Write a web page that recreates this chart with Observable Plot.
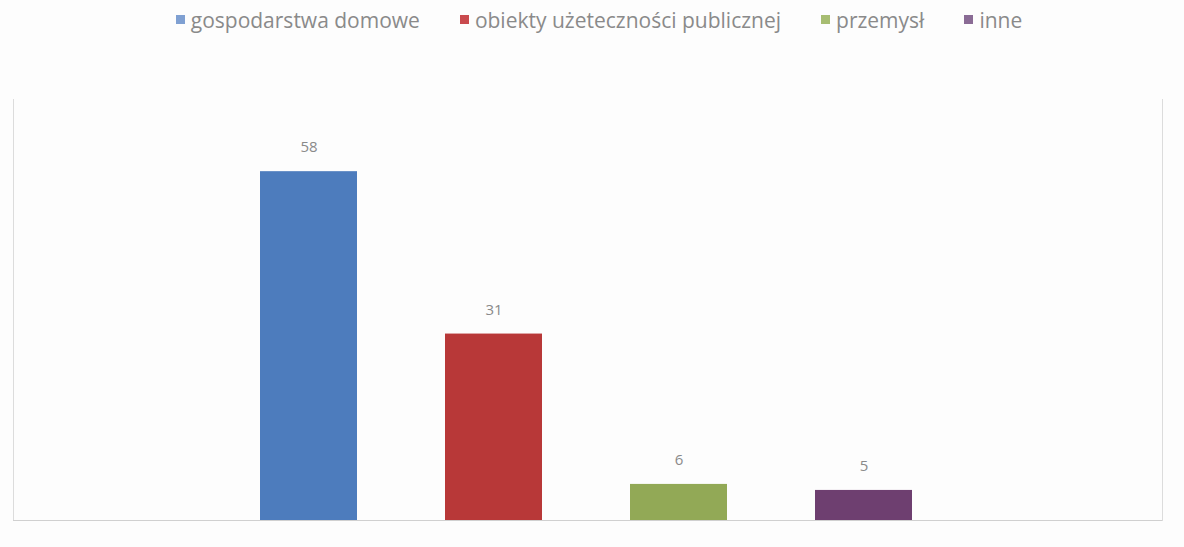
<!DOCTYPE html>
<html>
<head>
<meta charset="utf-8">
<script src="https://cdn.jsdelivr.net/npm/d3@7"></script>
<script src="https://cdn.jsdelivr.net/npm/@observablehq/plot@0.6"></script>
<style>
  html, body { margin: 0; padding: 0; background: #fdfdfd; }
  body { width: 1184px; height: 547px; overflow: hidden; font-family: "Open Sans", Lato, sans-serif; }
  #legend { height: 44px; display: flex; justify-content: center; align-items: center; padding-left: 14px; padding-bottom: 5px; box-sizing: border-box; font-size: 21px; color: #8a8a8a; }
  .item { display: flex; align-items: center; margin: 0 20px; }
  .sw { width: 9px; height: 9px; margin-right: 6px; }
</style>
</head>
<body>
<div id="legend"></div>
<div id="chart"></div>
<script>
const categories = ["gospodarstwa domowe", "obiekty użeteczności publicznej", "przemysł", "inne"];
const values = [58, 31, 6, 5];
const barColors = ["#4d7cbd", "#b83838", "#92a956", "#6e3f70"];
const swatchColors = ["#7fa0d2", "#c94a4e", "#a7bd72", "#8a6b95"];

const data = categories.map((c, i) => ({category: c, value: values[i]}));

const legend = document.getElementById("legend");
categories.forEach((c, i) => {
  const it = document.createElement("div");
  it.className = "item";
  const sw = document.createElement("span");
  sw.className = "sw";
  sw.style.background = swatchColors[i];
  const t = document.createElement("span");
  t.textContent = c;
  it.appendChild(sw); it.appendChild(t);
  legend.appendChild(it);
});

const chart = Plot.plot({
  width: 1184,
  height: 503,
  marginTop: 55,
  marginBottom: 27,
  marginLeft: 13,
  marginRight: 22,
  style: {background: "transparent", fontFamily: "Open Sans, sans-serif"},
  x: {domain: categories, paddingInner: 0.477, paddingOuter: 1.336, align: 0.497, axis: null},
  y: {domain: [0, 70], axis: null},
  color: {domain: categories, range: barColors},
  marks: [
    Plot.frame({anchor: "left", stroke: "#dcdcdc"}),
    Plot.frame({anchor: "right", stroke: "#dcdcdc"}),
    Plot.barY(data, {x: "category", y: "value", fill: "category"}),
    Plot.ruleY([0], {stroke: "#d0d0d0"}),
    Plot.text(data, {x: "category", y: "value", text: d => String(d.value), dy: -24, fill: "#8a8a8a", fontSize: 15})
  ]
});
document.getElementById("chart").appendChild(chart);
</script>
</body>
</html>
